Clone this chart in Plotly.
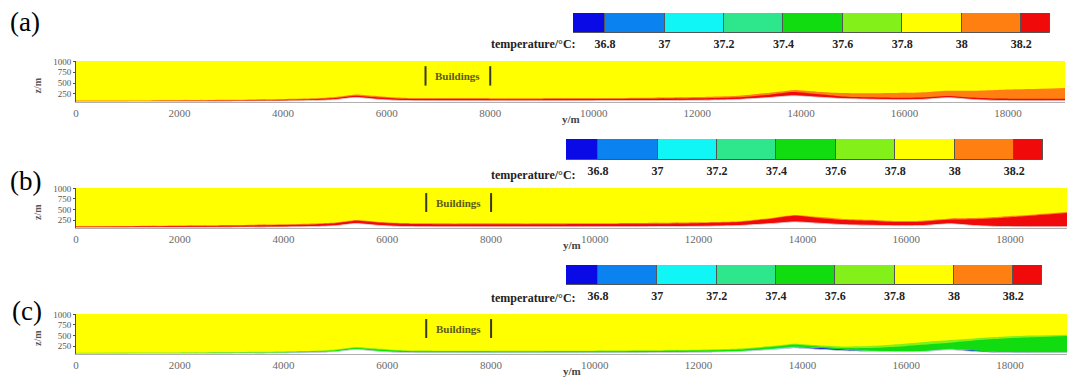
import plotly.graph_objects as go

# ---------------- data ----------------
dist_m = [0, 1000, 2000, 3000, 4000, 4600, 5000, 5400, 5800, 6300, 7000, 8000, 9000, 10000,
          11000, 12000, 12800, 13400, 13850, 14300, 14800, 15300, 15800, 16300, 16850,
          17300, 17800, 18400, 19100]
terrain = [70, 72, 75, 78, 85, 95, 115, 165, 125, 95, 90, 88, 88, 90, 92, 100, 120, 165, 205,
           175, 140, 125, 115, 118, 160, 120, 95, 90, 90]

# (a) layer tops (m)
a_red = [82, 85, 90, 96, 108, 122, 150, 205, 170, 135, 128, 126, 126, 128, 134, 145, 170, 230,
         290, 245, 190, 170, 160, 165, 200, 165, 140, 135, 135]
a_orange = [92, 96, 103, 112, 128, 145, 175, 235, 200, 160, 150, 148, 148, 150, 158, 175, 205,
            275, 335, 300, 270, 265, 270, 280, 320, 320, 340, 360, 385]

# (b) layer tops (m)
b_red = [90, 95, 105, 115, 130, 145, 170, 230, 190, 160, 150, 150, 150, 155, 160, 175, 200,
         280, 350, 300, 250, 230, 200, 210, 260, 270, 300, 350, 415]
b_orange = [105, 110, 122, 132, 148, 165, 190, 250, 210, 180, 170, 170, 170, 175, 180, 195, 220,
            300, 370, 325, 275, 255, 225, 235, 285, 295, 325, 375, 440]

# (c) layer tops (m)
c_yellowgreen = [90, 93, 98, 105, 120, 135, 165, 225, 190, 150, 140, 138, 138, 140, 148, 162,
                 190, 250, 305, 270, 240, 250, 290, 340, 390, 430, 470, 500, 520]
c_green = [80, 82, 86, 92, 104, 118, 145, 200, 165, 130, 123, 121, 121, 123, 130, 142, 168, 225,
           280, 240, 200, 200, 230, 280, 330, 380, 420, 460, 490]
c_mint = [70, 72, 75, 78, 85, 95, 125, 185, 135, 95, 90, 88, 88, 90, 92, 100, 130, 190, 240,
          215, 165, 130, 115, 118, 185, 150, 105, 90, 90]
c_blue = [70, 72, 75, 78, 85, 95, 115, 165, 125, 95, 90, 88, 88, 90, 92, 100, 120, 165, 205,
          200, 160, 125, 115, 118, 160, 145, 100, 90, 90]

buildings_span = [6750, 8000]

legend_levels = [36.8, 37.0, 37.2, 37.4, 37.6, 37.8, 38.0, 38.2]
legend_labels = ["36.8", "37", "37.2", "37.4", "37.6", "37.8", "38", "38.2"]
legend_ends = [36.692, 38.297]
legend_colors = ["#0a0ae6", "#0a82f0", "#10f5f5", "#2ee68c", "#10dc10",
                 "#84f01a", "#ffff00", "#ff8010", "#f00a0a"]

x_ticks = [0, 2000, 4000, 6000, 8000, 10000, 12000, 14000, 16000, 18000]
x_tick_labels = ["0", "2000", "4000", "6000", "8000", "10000", "12000", "14000", "16000", "18000"]
z_ticks = [250, 500, 750, 1000]
z_tick_labels = ["250", "500", "750", "1000"]

# ---------------- layout helpers ----------------
W, H = 1071, 378
def fx(p):
    return p / W
def fy(p):
    return 1 - p / H

SERIF = "Liberation Serif"
fig = go.Figure()

panels = [
    ("a", (76, 1065), (61, 102), [(a_orange, legend_colors[7]), (a_red, legend_colors[8])]),
    ("b", (76, 1067), (188, 228), [(b_orange, legend_colors[7]), (b_red, legend_colors[8])]),
    ("c", (76, 1067), (314, 354), [(c_yellowgreen, legend_colors[5]), (c_green, legend_colors[4]),
                                  (c_mint, legend_colors[3]), (c_blue, legend_colors[0])]),
]
cbars = [((573, 1050), (13, 33), 44), ((566, 1043), (139, 160), 175), ((566, 1042), (265, 285), 298)]
letter_pos = [(25, 22), (25, 181), (27, 311)]

Z_RANGE = [60, 1010]
X_RANGE = [0, 19100]

layout = dict(
    width=W, height=H, margin=dict(l=0, r=0, t=0, b=0, pad=0, autoexpand=False),
    paper_bgcolor="white", plot_bgcolor="white", showlegend=False,
    bargap=0, barmode="overlay",
)
annotations = []
shapes = []

def ann(x, y, text, size, color, **kw):
    d = dict(xref="paper", yref="paper", x=x, y=y, text=text, showarrow=False,
             xanchor="center", yanchor="middle",
             font=dict(family=SERIF, size=size, color=color))
    d.update(kw)
    return d

for i, (name, (xl, xr), (yt, yb), layers) in enumerate(panels):
    ax_idx = 2 * i + 1
    cb_idx = 2 * i + 2
    xa = "x" if ax_idx == 1 else f"x{ax_idx}"
    ya = "y" if ax_idx == 1 else f"y{ax_idx}"
    layout[f"xaxis{'' if ax_idx == 1 else ax_idx}"] = dict(
        domain=[fx(xl), fx(xr)], anchor=ya, range=X_RANGE, tickvals=x_ticks,
        ticktext=x_tick_labels, automargin=False,
        showgrid=False, zeroline=False, showline=True, linecolor="#b0b0b0", linewidth=1,
        ticks="", ticklabelstandoff=1, tickfont=dict(family=SERIF, size=11, color="#6a6a6a"),
    )
    layout[f"yaxis{'' if ax_idx == 1 else ax_idx}"] = dict(
        domain=[fy(yb), fy(yt)], anchor=xa, range=Z_RANGE, tickvals=z_ticks,
        ticktext=z_tick_labels, automargin=False,
        showgrid=False, zeroline=False, showline=True, linecolor="#505050", linewidth=1,
        ticks="outside", ticklen=2, tickcolor="#505050",
        tickfont=dict(family=SERIF, size=9, color="#555555"),
    )
    shapes.append(dict(type="rect", xref=f"{xa} domain", yref=f"{ya} domain",
                       x0=0, x1=1, y0=0, y1=1, fillcolor=legend_colors[6],
                       line=dict(width=0), layer="below"))
    for tops, col in layers:
        fig.add_trace(go.Scatter(x=dist_m, y=tops, xaxis=xa, yaxis=ya, mode="lines",
                                 line=dict(width=0, shape="spline", smoothing=0.6),
                                 fill="tozeroy", fillcolor=col, hoverinfo="skip"))
    fig.add_trace(go.Scatter(x=dist_m, y=terrain, xaxis=xa, yaxis=ya, mode="lines",
                             line=dict(width=0.8, shape="spline", smoothing=0.6, color="#d8d8d8"),
                             fill="tozeroy", fillcolor="white", hoverinfo="skip"))
    for bx in buildings_span:
        shapes.append(dict(type="line", xref=xa, yref=ya, x0=bx, x1=bx, y0=440, y1=890,
                           line=dict(color="#3a3a20", width=2)))
    annotations.append(dict(xref=xa, yref=ya, x=sum(buildings_span) / 2, y=665,
                            text="<b>Buildings</b>", showarrow=False,
                            xanchor="center", yanchor="middle",
                            font=dict(family=SERIF, size=11, color="#5a5a18")))
    annotations.append(ann(fx((xl + xr) / 2), fy(yb + 17), "<b>y/m</b>", 11, "#444"))
    annotations.append(ann(fx(37), fy((yt + yb) / 2 + 4), "<b>z/m</b>", 10, "#555",
                           textangle=-90))
    lx, ly = letter_pos[i]
    annotations.append(ann(fx(lx), fy(ly), f"({name})", 27, "black"))

    (cx0, cx1), (cy0, cy1), label_y = cbars[i]
    cxa = f"x{cb_idx}"
    cya = f"y{cb_idx}"
    layout[f"xaxis{cb_idx}"] = dict(
        domain=[fx(cx0), fx(cx1)], anchor=cya, range=legend_ends, tickvals=legend_levels,
        ticktext=legend_labels, showgrid=False, zeroline=False, showline=False, ticks="",
        ticklabelstandoff=2, automargin=False,
        tickfont=dict(family=SERIF, size=12, color="#222", weight="bold"),
    )
    layout[f"yaxis{cb_idx}"] = dict(domain=[fy(cy1), fy(cy0)], anchor=cxa, range=[-0.5, 0.5],
                                    visible=False, automargin=False)
    edges = [legend_ends[0]] + legend_levels + [legend_ends[1]]
    fig.add_trace(go.Bar(y=[0] * len(legend_colors), base=edges[:-1],
                         x=[edges[k + 1] - edges[k] for k in range(len(legend_colors))],
                         orientation="h", width=1, xaxis=cxa, yaxis=cya,
                         marker=dict(color=legend_colors, line=dict(color="#555", width=1)),
                         hoverinfo="skip"))
    annotations.append(ann(fx(578), fy(label_y), "<b>temperature/°C:</b>", 12, "#222",
                           xanchor="right"))

layout["annotations"] = annotations
layout["shapes"] = shapes
fig.update_layout(**layout)
fig.write_html("out.html")
